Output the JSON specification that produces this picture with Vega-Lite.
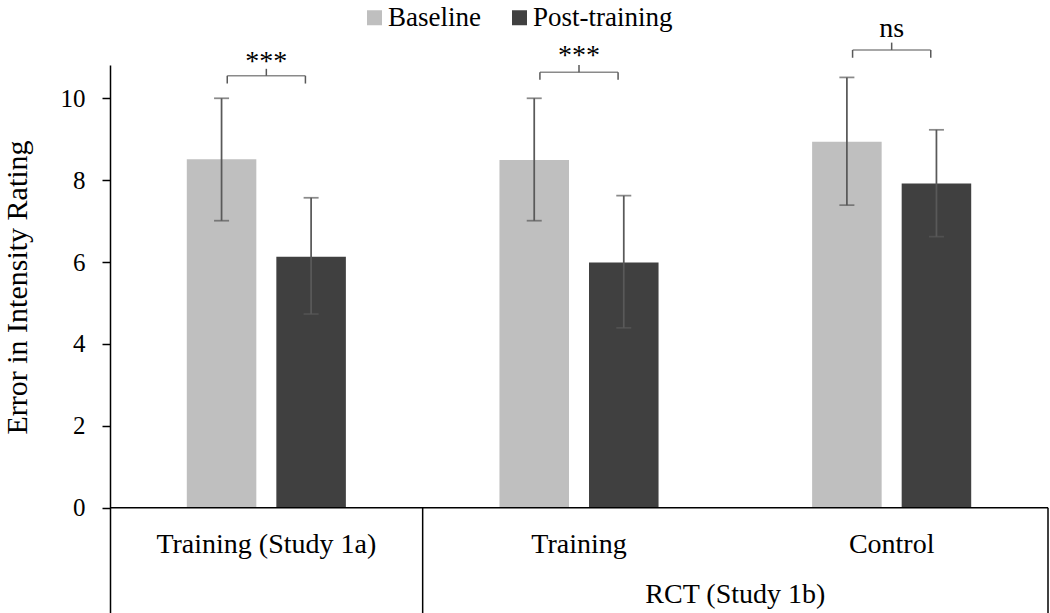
{
  "$schema": "https://vega.github.io/schema/vega-lite/v6.json",
  "width": 938,
  "height": 548,
  "autosize": {"type": "none"},
  "padding": {"left": 110, "top": 65, "right": 2, "bottom": 0},
  "background": "white",
  "config": {"font": "Liberation Serif", "view": {"stroke": null}},
  "datasets": {
    "bars": [
      {"group": "Training (Study 1a)", "series": "Baseline", "mean": 8.51, "lo": 7.01, "hi": 10.0},
      {"group": "Training (Study 1a)", "series": "Post-training", "mean": 6.13, "lo": 4.73, "hi": 7.57},
      {"group": "Training", "series": "Baseline", "mean": 8.49, "lo": 7.01, "hi": 10.0},
      {"group": "Training", "series": "Post-training", "mean": 5.99, "lo": 4.39, "hi": 7.62},
      {"group": "Control", "series": "Baseline", "mean": 8.94, "lo": 7.39, "hi": 10.51},
      {"group": "Control", "series": "Post-training", "mean": 7.92, "lo": 6.62, "hi": 9.23}
    ],
    "brackets": [
      {"group": "Training (Study 1a)", "level": 10.55, "low": 10.36, "top": 10.72, "label": "***", "labelY": 10.69},
      {"group": "Training", "level": 10.635, "low": 10.45, "top": 10.81, "label": "***", "labelY": 10.84},
      {"group": "Control", "level": 11.18, "low": 10.99, "top": 11.36, "label": "ns", "labelY": 11.5}
    ],
    "ends": [
      {"group": "Training (Study 1a)", "side": "L", "level": 10.55, "low": 10.36},
      {"group": "Training (Study 1a)", "side": "R", "level": 10.55, "low": 10.36},
      {"group": "Training", "side": "L", "level": 10.635, "low": 10.45},
      {"group": "Training", "side": "R", "level": 10.635, "low": 10.45},
      {"group": "Control", "side": "L", "level": 11.18, "low": 10.99},
      {"group": "Control", "side": "R", "level": 11.18, "low": 10.99}
    ],
    "groups": [
      {"group": "Training (Study 1a)"},
      {"group": "Training"},
      {"group": "Control"}
    ]
  },
  "layer": [
    {
      "data": {"name": "bars"},
      "mark": {"type": "bar"},
      "encoding": {
        "x": {"field": "group", "type": "nominal", "scale": {"domain": ["Training (Study 1a)", "Training", "Control"], "paddingInner": 0, "paddingOuter": 0}, "axis": null},
        "xOffset": {"field": "series", "type": "nominal", "scale": {"domain": ["Baseline", "Post-training"], "paddingInner": 0.2235, "paddingOuter": 0.8575}},
        "y": {
          "field": "mean", "type": "quantitative",
          "scale": {"domain": [-2.572, 10.813], "nice": false, "zero": false},
          "axis": {
            "values": [0, 2, 4, 6, 8, 10],
            "grid": false,
            "domainColor": "black", "domainWidth": 1.5,
            "tickColor": "black", "tickWidth": 1.5, "tickSize": 8,
            "labelFontSize": 25, "labelColor": "black", "labelPadding": 17, "labelFont": "Liberation Serif",
            "title": "Error in Intensity Rating",
            "titleFontSize": 30, "titleFontWeight": "normal", "titleColor": "black", "titleFont": "Liberation Serif",
            "titleX": -84, "titleY": 222, "titleAngle": 270, "titleAlign": "center", "titleBaseline": "alphabetic"
          }
        },
        "color": {
          "field": "series", "type": "nominal",
          "scale": {"domain": ["Baseline", "Post-training"], "range": ["#bfbfbf", "#404040"]},
          "legend": {
            "orient": "none", "legendX": 251, "legendY": -61, "direction": "horizontal",
            "title": null, "symbolType": "square", "symbolSize": 225, "symbolStrokeWidth": 0,
            "labelFontSize": 27, "labelColor": "black", "labelFont": "Liberation Serif", "labelOffset": 0, "columnPadding": 25, "padding": 0
          }
        }
      }
    },
    {
      "data": {"name": "bars"},
      "mark": {"type": "rule", "color": "#595959", "strokeWidth": 1.75},
      "encoding": {
        "x": {"field": "group", "type": "nominal"},
        "xOffset": {"field": "series", "type": "nominal", "scale": {"domain": ["Baseline", "Post-training"], "paddingInner": 0.2235, "paddingOuter": 0.8575}},
        "y": {"field": "lo", "type": "quantitative"},
        "y2": {"field": "hi"}
      }
    },
    {
      "data": {"name": "bars"},
      "mark": {"type": "tick", "color": "#595959", "thickness": 1.75, "size": 15},
      "encoding": {
        "x": {"field": "group", "type": "nominal"},
        "xOffset": {"field": "series", "type": "nominal", "scale": {"domain": ["Baseline", "Post-training"], "paddingInner": 0.2235, "paddingOuter": 0.8575}},
        "y": {"field": "hi", "type": "quantitative"}
      }
    },
    {
      "data": {"name": "bars"},
      "mark": {"type": "tick", "color": "#595959", "thickness": 1.75, "size": 15},
      "encoding": {
        "x": {"field": "group", "type": "nominal"},
        "xOffset": {"field": "series", "type": "nominal", "scale": {"domain": ["Baseline", "Post-training"], "paddingInner": 0.2235, "paddingOuter": 0.8575}},
        "y": {"field": "lo", "type": "quantitative"}
      }
    },
    {
      "data": {"name": "brackets"},
      "mark": {"type": "tick", "color": "#595959", "thickness": 1.5, "size": 78},
      "encoding": {
        "x": {"field": "group", "type": "nominal"},
        "y": {"field": "level", "type": "quantitative"}
      }
    },
    {
      "data": {"name": "brackets"},
      "mark": {"type": "rule", "color": "#595959", "strokeWidth": 1.5},
      "encoding": {
        "x": {"field": "group", "type": "nominal"},
        "y": {"field": "level", "type": "quantitative"},
        "y2": {"field": "top"}
      }
    },
    {
      "data": {"name": "ends"},
      "mark": {"type": "rule", "color": "#595959", "strokeWidth": 1.5},
      "encoding": {
        "x": {"field": "group", "type": "nominal"},
        "xOffset": {"field": "side", "type": "nominal", "scale": {"domain": ["L", "R"], "paddingInner": 0, "paddingOuter": 1.003}},
        "y": {"field": "low", "type": "quantitative"},
        "y2": {"field": "level"}
      }
    },
    {
      "data": {"name": "brackets"},
      "mark": {"type": "text", "fontSize": 28, "color": "black", "baseline": "alphabetic", "align": "center"},
      "encoding": {
        "x": {"field": "group", "type": "nominal"},
        "y": {"field": "labelY", "type": "quantitative"},
        "text": {"field": "label"}
      }
    },
    {
      "data": {"name": "groups"},
      "mark": {"type": "text", "fontSize": 28, "color": "black", "baseline": "alphabetic", "align": "center"},
      "encoding": {
        "x": {"field": "group", "type": "nominal"},
        "y": {"datum": -1.106, "type": "quantitative"},
        "text": {"field": "group"}
      }
    },
    {
      "data": {"values": [{"label": "RCT (Study 1b)"}]},
      "mark": {"type": "text", "fontSize": 28, "color": "black", "baseline": "alphabetic", "align": "center"},
      "encoding": {
        "x": {"datum": "Training", "type": "nominal", "bandPosition": 1},
        "y": {"datum": -2.32, "type": "quantitative"},
        "text": {"field": "label"}
      }
    },
    {
      "data": {"values": [{}]},
      "mark": {"type": "rule", "color": "black", "strokeWidth": 1.5},
      "encoding": {
        "y": {"datum": 0, "type": "quantitative"}
      }
    },
    {
      "data": {"values": [{}]},
      "mark": {"type": "rule", "color": "black", "strokeWidth": 1.5},
      "encoding": {
        "x": {"datum": "Training", "type": "nominal", "bandPosition": 0},
        "y": {"datum": 0, "type": "quantitative"},
        "y2": {"datum": -2.572}
      }
    },
    {
      "data": {"values": [{}]},
      "mark": {"type": "rule", "color": "black", "strokeWidth": 1.5},
      "encoding": {
        "x": {"datum": "Control", "type": "nominal", "bandPosition": 1},
        "y": {"datum": 0, "type": "quantitative"},
        "y2": {"datum": -2.572}
      }
    }
  ],
  "resolve": {"scale": {"xOffset": "independent"}}
}
